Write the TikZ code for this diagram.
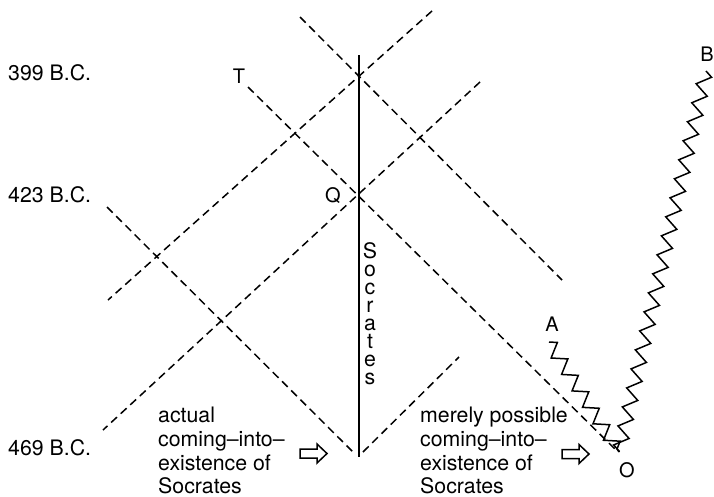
\documentclass[tikz,border=0pt]{standalone}
\usepackage{fontspec}
\setmainfont{TeX Gyre Heros}
\usetikzlibrary{decorations.pathmorphing}
\begin{document}
\begin{tikzpicture}[x=1pt,y=-1pt,
  worldline/.style={line width=1.5pt, dash pattern=on 8pt off 5pt},
  lifeline/.style={line width=2pt},
  wiggle/.style={line width=1.5pt, line join=miter, decorate,
    decoration={zigzag, segment length=19.5pt, amplitude=6.8pt}},
  txt/.style={inner sep=0pt, font=\fontsize{21.3}{23.7}\selectfont},
  pt/.style={inner sep=0pt, font=\fontsize{20}{22}\selectfont},
  hollowarrow/.pic={\draw[line width=1.5pt, line join=miter, fill=white]
    (0,-4.5) -- (17,-4.5) -- (17,-9.5) -- (27,0) -- (17,9.5) -- (17,4.5) -- (0,4.5) -- cycle;}]
\useasboundingbox (0,0) rectangle (714,496);

% end points of the light-cone lines
\coordinate (l1a) at (300,17);  \coordinate (l1b) at (562,280);
\coordinate (l2a) at (432,11);  \coordinate (l2b) at (108,300);
\coordinate (l3a) at (248,87);  \coordinate (l3b) at (618,452);
\coordinate (l4a) at (480,82);  \coordinate (l4b) at (103,430);
\coordinate (l5a) at (107,207); \coordinate (l5b) at (353,452);
\coordinate (l6a) at (363,452); \coordinate (l6b) at (459,357);

\draw[worldline] (l1a) -- (l1b);
\draw[worldline] (l2a) -- (l2b);
\draw[worldline] (l3a) -- (l3b);
\draw[worldline] (l4a) -- (l4b);
\draw[worldline] (l5a) -- (l5b);
\draw[worldline] (l6a) -- (l6b);

% Socrates' world line, name written downwards beside it
\coordinate (stop) at (359,55);
\coordinate (sbot) at (359,457);
\draw[lifeline] (stop) -- (sbot);
\foreach \ch [count=\i from 0] in {S,o,c,r,a,t,e,s}
  \node[txt, anchor=base] (soc\i) at (370,258+18*\i) {\ch};

% merely possible world lines from O
\coordinate (O) at (619,452);
\coordinate (Aend) at (549,342);
\coordinate (Bend) at (706,71);
\draw[wiggle] (Aend) -- (O);
\draw[wiggle] (Bend) -- (O);

% point labels
\node[pt, anchor=base] (T) at (239,83) {T};
\node[pt, anchor=base] (Q) at (333,202) {Q};
\node[pt, anchor=base] (A) at (552,331) {A};
\node[pt, anchor=base] (B) at (707,61) {B};
\node[pt, anchor=base] (Olab) at (627,477) {O};

% dates
\node[txt, anchor=base west] (d399) at (8,80) {399 B.C.};
\node[txt, anchor=base west] (d423) at (8,202) {423 B.C.};
\node[txt, anchor=base west] (d469) at (8,455) {469 B.C.};

% captions with pointers
\node[txt, align=left, anchor=north west] (actual) at (158,407)
  {actual\\coming–into–\\existence of\\Socrates};
\node[txt, align=left, anchor=north west] (possible) at (420,407)
  {merely possible\\coming–into–\\existence of\\Socrates};
\pic at (300,453.5) {hollowarrow};
\pic at (562,454) {hollowarrow};
\end{tikzpicture}
\end{document}
